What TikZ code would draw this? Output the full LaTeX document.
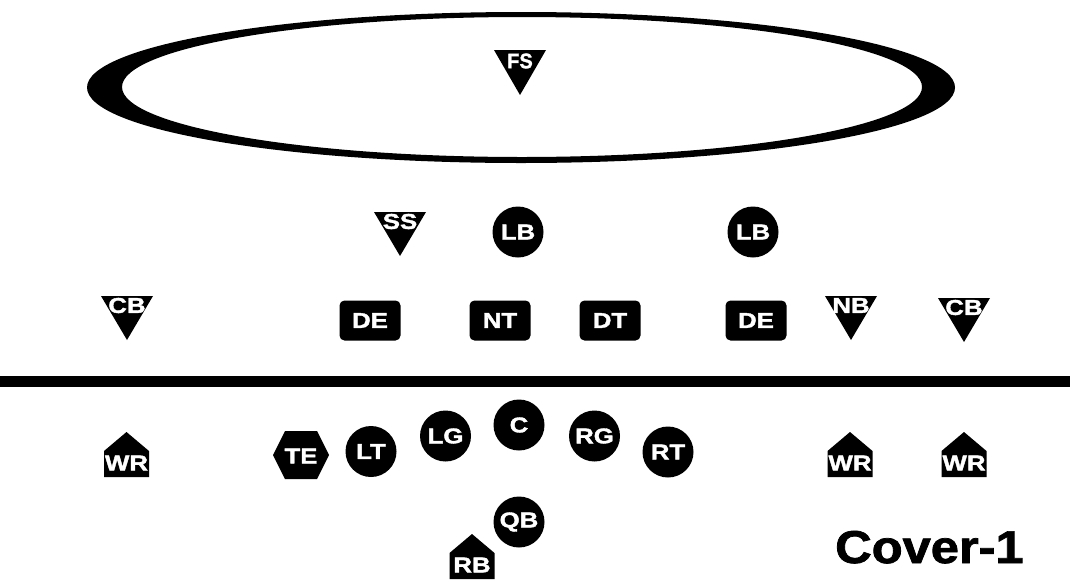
\documentclass[tikz,border=0pt]{standalone}
\usepackage{graphicx}
\usepackage{fontspec}
\setmainfont{Liberation Sans}
\newfontfamily\blackfont[FakeBold=1.6]{Liberation Sans Bold}
\newcommand\plfont{\fontsize{21.5}{21.5}\selectfont\blackfont}
\newcommand\wt[1]{\scalebox{1.2}[1]{#1}}
\tikzset{
  lbl/.style={text=white, font=\plfont, inner sep=0pt},
  circ/.style={circle, fill=black, minimum size=51pt, inner sep=0pt, text=white, font=\plfont},
  dbox/.style={rectangle, rounded corners=5pt, fill=black, minimum width=61pt, minimum height=40pt, inner sep=0pt, text=white, font=\plfont},
}
% down-pointing triangle: name, centre x, top y, label
\newcommand\dtri[4]{%
  \fill (#2-26,#3) -- (#2+26,#3) -- (#2,#3+44) -- cycle;
  \node[lbl] (#1) at (#2,#3+9.5) {\wt{#4}};}
% house shape: name, centre x, apex y, label
\newcommand\house[4]{%
  \fill (#2-22.5,#3+45) -- (#2+22.5,#3+45) -- (#2+22.5,#3+19) -- (#2,#3) -- (#2-22.5,#3+19) -- cycle;
  \node[lbl] (#1) at (#2,#3+31) {\wt{#4}};}
\begin{document}
\begin{tikzpicture}[x=1pt,y=-1pt]
\useasboundingbox[fill=white] (0,0) rectangle (1070,587);
% deep zone ellipse
\fill[even odd rule] (521,87.5) ellipse [x radius=434pt, y radius=75.5pt]
                     (522,87) ellipse [x radius=400pt, y radius=70pt];
% free safety
\fill (494,50) -- (546,50) -- (520,95) -- cycle;
\node[lbl, font=\fontsize{21}{21}\selectfont\blackfont] (fs) at (520,61) {\scalebox{0.95}[1]{FS}};
% line of scrimmage
\fill (0,375.5) rectangle (1070,386.5);
% defence
\dtri{ss}{400}{212}{SS}
\dtri{cbl}{127}{296}{CB}
\dtri{nb}{851}{296}{NB}
\dtri{cbr}{964}{298}{CB}
\node[circ] (lb1) at (518,232) {\wt{LB}};
\node[circ] (lb2) at (753,232) {\wt{LB}};
\node[dbox] (de1) at (370,320.5) {\wt{DE}};
\node[dbox] (nt) at (500,320.5) {\wt{NT}};
\node[dbox] (dt) at (610,320.5) {\wt{DT}};
\node[dbox] (de2) at (756,320.5) {\wt{DE}};
% offence
\house{wrl}{126.5}{432}{WR}
\house{wr1}{850}{432}{WR}
\house{wr2}{964}{432}{WR}
\house{rb}{472}{534}{RB}
\fill (273,455) -- (285,431) -- (317,431) -- (329,455) -- (317,479) -- (285,479) -- cycle;
\node[lbl] (te) at (301,456) {\wt{TE}};
\node[circ] (lt) at (371,451.5) {\wt{LT}};
\node[circ] (lg) at (445.5,436) {\wt{LG}};
\node[circ] (c) at (519,425) {\wt{C}};
\node[circ] (rg) at (594.5,436) {\wt{RG}};
\node[circ] (rt) at (668,452) {\wt{RT}};
\node[circ] (qb) at (519,522) {\wt{QB}};
% title
\node[font=\fontsize{46}{46}\selectfont\blackfont, anchor=base west, inner sep=0pt] (title) at (835,563) {\scalebox{1.1}[1]{Cover-1}};
\end{tikzpicture}
\end{document}
